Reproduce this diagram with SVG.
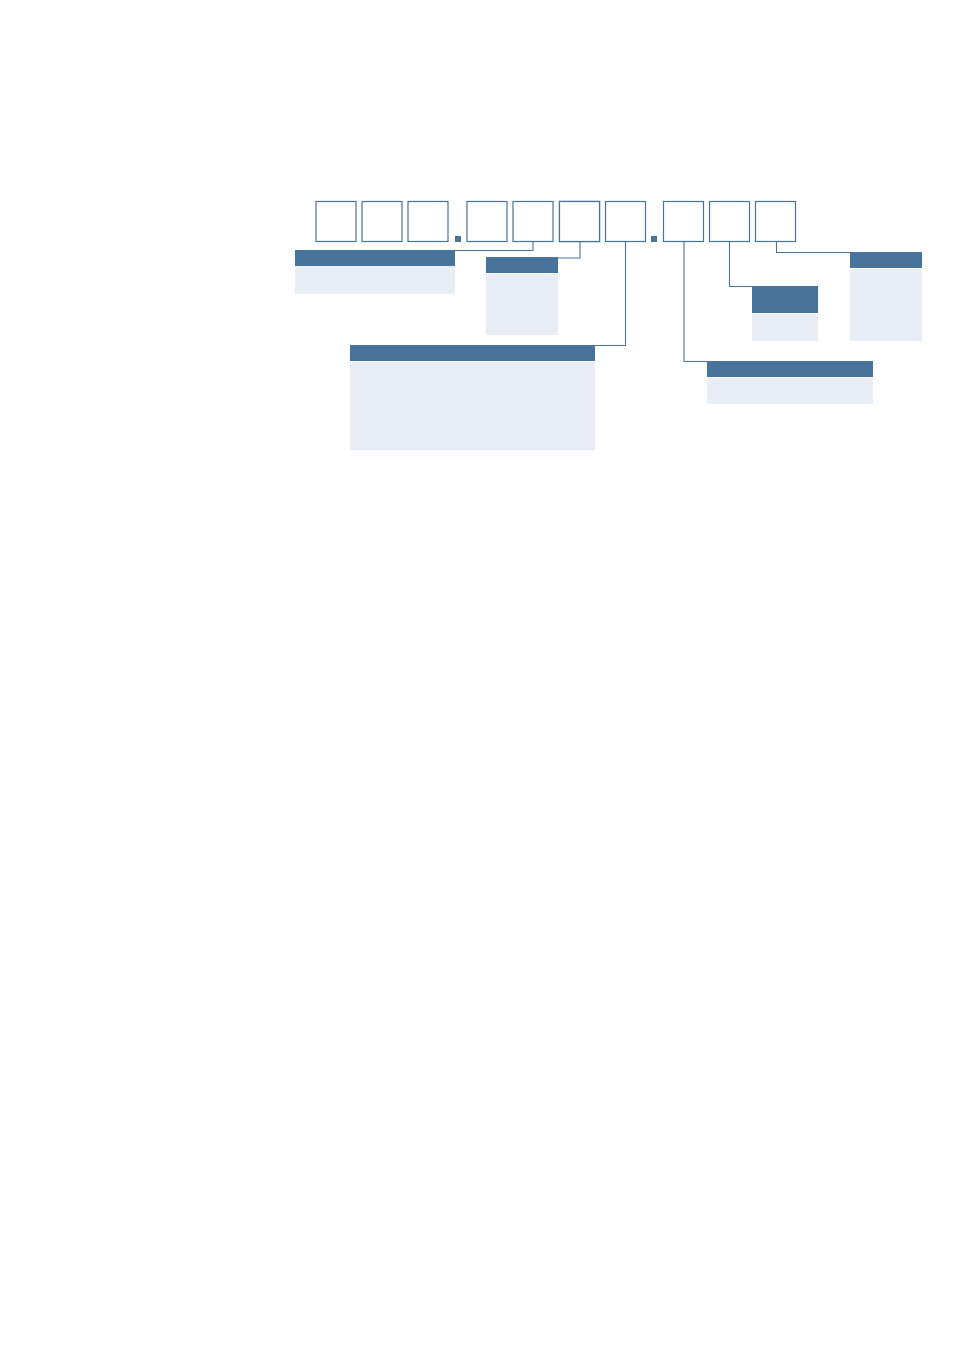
<svg xmlns="http://www.w3.org/2000/svg" width="954" height="1350" viewBox="0 0 954 1350">
<style>
.box{fill:#fff;stroke:#48739a;stroke-width:1.2}
.dot{fill:#48739a}
.hd{fill:#48739a}
.bd{fill:#e9edf5}
.cn{fill:none;stroke:#48739a;stroke-width:1.1}
</style>
<rect width="954" height="1350" fill="#fff"/>
<g id="code">
<rect class="box" x="316" y="201.5" width="40" height="40"/>
<rect class="box" x="362" y="201.5" width="40" height="40"/>
<rect class="box" x="408" y="201.5" width="40" height="40"/>
<rect class="dot" x="455" y="236" width="6" height="6"/>
<rect class="box" x="467" y="201.5" width="40" height="40"/>
<rect class="box" x="513" y="201.5" width="40" height="40"/>
<rect x="559" y="201" width="41" height="41" fill="none" stroke="#dfe6ef" stroke-width="2"/>
<rect class="box" x="559.5" y="201.5" width="40" height="40"/>
<rect class="box" x="605.5" y="201.5" width="40" height="40"/>
<rect class="dot" x="651" y="236" width="6" height="6"/>
<rect class="box" x="663.5" y="201.5" width="40" height="40"/>
<rect class="box" x="709.5" y="201.5" width="40" height="40"/>
<rect class="box" x="755.5" y="201.5" width="40" height="40"/>
</g>
<g id="connectors">
<polyline class="cn" points="533,241.5 533,250.5 455,250.5"/>
<polyline class="cn" points="580,241.5 580,258 558,258"/>
<polyline class="cn" points="625.5,241.5 625.5,345.5 595,345.5"/>
<polyline class="cn" points="684,241.5 684,361.5 707,361.5"/>
<polyline class="cn" points="729.5,241.5 729.5,286.5 752,286.5"/>
<polyline class="cn" points="776.5,241.5 776.5,252.5 850,252.5"/>
</g>
<g id="panel1">
<rect class="hd" x="295" y="250" width="160" height="16"/>
<rect class="bd" x="295" y="266" width="160" height="28"/>
</g>
<g id="panel2">
<rect class="hd" x="486" y="257" width="72" height="16"/>
<rect class="bd" x="486" y="274" width="72" height="61"/>
</g>
<g id="panel3">
<rect class="hd" x="350" y="345" width="245" height="16"/>
<rect class="bd" x="350" y="362" width="245" height="88"/>
</g>
<g id="panel4">
<rect class="hd" x="707" y="361" width="166" height="16"/>
<rect class="bd" x="707" y="378" width="166" height="26"/>
</g>
<g id="panel5">
<rect class="hd" x="752" y="286" width="66" height="27"/>
<rect class="bd" x="752" y="314" width="66" height="27"/>
</g>
<g id="panel6">
<rect class="hd" x="850" y="252" width="72" height="16"/>
<rect class="bd" x="850" y="269" width="72" height="72"/>
</g>
</svg>
